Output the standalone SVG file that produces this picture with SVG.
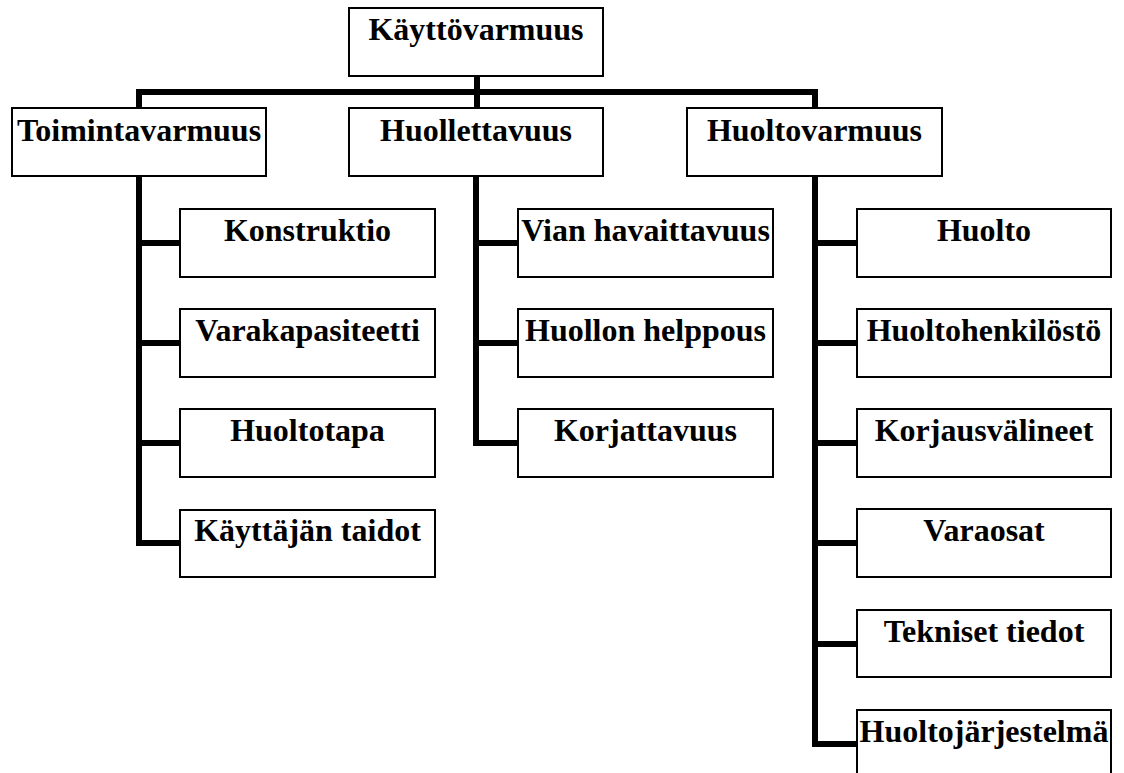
<svg xmlns="http://www.w3.org/2000/svg" width="1124" height="773" viewBox="0 0 1124 773">
<style>
.box rect{fill:#fff;stroke:#000;stroke-width:2}
.box text{font-family:"Liberation Serif","Times New Roman",serif;font-weight:bold;font-size:32px;text-anchor:middle;fill:#000}
#connectors path{fill:none;stroke:#000;stroke-width:6;stroke-linejoin:miter;stroke-linecap:butt}
</style>
<rect width="1124" height="773" fill="#fff"/>
<g id="connectors">
<path d="M477 76 V108"/>
<path d="M139 108 V92 H815 V108"/>
<path d="M139 176 V543 H181"/>
<path d="M139 243 H181 M139 343 H181 M139 443 H181"/>
<path d="M476 176 V443 H519"/>
<path d="M476 243 H519 M476 343 H519"/>
<path d="M815 176 V744 H858"/>
<path d="M815 243 H858 M815 343 H858 M815 443 H858 M815 543 H858 M815 644 H858"/>
</g>
<g id="n-kayttovarmuus" class="box"><rect x="349" y="8" width="254" height="68"/><text x="476" y="40">Käyttövarmuus</text></g>
<g id="n-toimintavarmuus" class="box"><rect x="12" y="108" width="254" height="68"/><text x="139" y="141">Toimintavarmuus</text></g>
<g id="n-huollettavuus" class="box"><rect x="349" y="108" width="254" height="68"/><text x="476" y="141">Huollettavuus</text></g>
<g id="n-huoltovarmuus" class="box"><rect x="687" y="108" width="255" height="68"/><text x="814.5" y="141">Huoltovarmuus</text></g>
<g id="n-konstruktio" class="box"><rect x="180" y="209" width="255" height="68"/><text x="307.5" y="241">Konstruktio</text></g>
<g id="n-varakapasiteetti" class="box"><rect x="180" y="309" width="255" height="68"/><text x="307.5" y="341">Varakapasiteetti</text></g>
<g id="n-huoltotapa" class="box"><rect x="180" y="409" width="255" height="68"/><text x="307.5" y="441">Huoltotapa</text></g>
<g id="n-kayttajan-taidot" class="box"><rect x="180" y="510" width="255" height="67"/><text x="307.5" y="541">Käyttäjän taidot</text></g>
<g id="n-vian-havaittavuus" class="box"><rect x="518" y="209" width="255" height="68"/><text x="645.5" y="241">Vian havaittavuus</text></g>
<g id="n-huollon-helppous" class="box"><rect x="518" y="309" width="255" height="68"/><text x="645.5" y="341">Huollon helppous</text></g>
<g id="n-korjattavuus" class="box"><rect x="518" y="409" width="255" height="68"/><text x="645.5" y="441">Korjattavuus</text></g>
<g id="n-huolto" class="box"><rect x="857" y="209" width="254" height="68"/><text x="984" y="241">Huolto</text></g>
<g id="n-huoltohenkilosto" class="box"><rect x="857" y="309" width="254" height="68"/><text x="984" y="341">Huoltohenkilöstö</text></g>
<g id="n-korjausvalineet" class="box"><rect x="857" y="409" width="254" height="68"/><text x="984" y="441">Korjausvälineet</text></g>
<g id="n-varaosat" class="box"><rect x="857" y="509" width="254" height="68"/><text x="984" y="541">Varaosat</text></g>
<g id="n-tekniset-tiedot" class="box"><rect x="857" y="610" width="254" height="67"/><text x="984" y="642">Tekniset tiedot</text></g>
<g id="n-huoltojarjestelma" class="box"><rect x="857" y="710" width="254" height="68"/><text x="984" y="742">Huoltojärjestelmä</text></g>
</svg>
